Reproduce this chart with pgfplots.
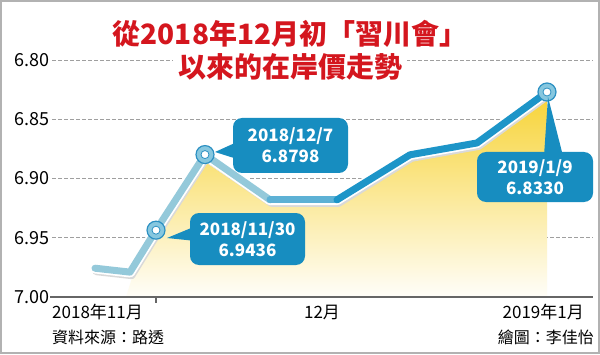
\documentclass[border=0pt]{standalone}
\usepackage{fontspec}
\setmainfont{Noto Sans CJK TC}
\usepackage{pgfplots}
\pgfplotsset{compat=1.18}
\definecolor{titlered}{HTML}{D4161E}
\definecolor{lineL}{HTML}{94C9DA}
\definecolor{lineM}{HTML}{5DB1D5}
\definecolor{lineR}{HTML}{1D95C8}
\definecolor{boxblue}{HTML}{178DC0}
\definecolor{ringfill}{HTML}{86C7DF}
\definecolor{ringedge}{HTML}{2C90C2}
\definecolor{fillY}{HTML}{F7D43A}
\begin{document}
\begin{tikzpicture}[x=1pt,y=1pt]
\useasboundingbox (0,0) rectangle (600,354);
\fill[white] (0,0) rectangle (600,354);
\begin{axis}[at={(52pt,57pt)}, anchor=south west, scale only axis,
  width=541pt, height=237pt,
  xmin=52, xmax=593, ymin=6.80, ymax=7.00, y dir=reverse, clip=false,
  axis line style={draw=none}, xtick=\empty,
  ytick={6.80,6.85,6.90,6.95,7.00},
  yticklabels={6.80,6.85,6.90,6.95,7.00},
  ymajorgrids, major tick length=0pt,
  major grid style={gray!75, dash pattern=on 3.5pt off 2.5pt, line width=0.9pt},
  yticklabel style={font=\fontsize{18}{20}\selectfont, text=black, inner sep=2pt},
]
% area
\addplot[draw=none, top color=fillY, middle color=fillY!40, bottom color=white!97!fillY]
  coordinates {(126,7.0) (132,6.984) (156,6.950) (205,6.886) (270,6.923) (337,6.923) (410,6.885) (477,6.875) (547,6.832) (547,7.0)} -- cycle;
% shadow
\addplot[gray!30, line width=8pt, line join=round, line cap=round, transform canvas={xshift=1.5pt,yshift=-3pt}]
  coordinates {(95,6.9757) (130,6.979) (156,6.9436) (205,6.8798) (270,6.918) (337,6.918) (410,6.880) (477,6.870) (547,6.827)};
% white outline
\addplot[white, line width=10.5pt, line join=round, line cap=round]
  coordinates {(95,6.9757) (130,6.979) (156,6.9436) (205,6.8798) (270,6.918) (337,6.918) (410,6.880) (477,6.870) (547,6.827)};
% line
\addplot[lineL, line width=7pt, line join=round, line cap=round]
  coordinates {(95,6.9757) (130,6.979) (156,6.9436) (205,6.8798) (270,6.918)};
\addplot[lineM, line width=7pt, line join=round, line cap=round]
  coordinates {(270,6.918) (337,6.918)};
\addplot[lineR, line width=7pt, line join=round, line cap=round]
  coordinates {(337,6.918) (410,6.880) (477,6.870) (547,6.827)};
% markers
\addplot[only marks, mark=*, mark size=9pt, mark options={fill=ringfill, draw=ringedge, line width=1.2pt}]
  coordinates {(156,6.9436) (205,6.8798) (547,6.827)};
\addplot[only marks, mark=*, mark size=4pt, mark options={fill=white, draw=ringedge, line width=0.8pt}]
  coordinates {(156,6.9436) (205,6.8798) (547,6.827)};
\end{axis}
% axis line and tick
\draw[color=black!60, line width=1.2pt] (50,57) -- (593,57);
\draw[color=black!60, line width=1.2pt] (156,57) -- (156,51);
% callouts
\fill[boxblue] (167,116) -- (196,128) -- (196,113) -- cycle;
\fill[boxblue, rounded corners=9pt] (190,89) rectangle (305,141);
\node[text=white, font=\fontsize{17}{21}\selectfont\bfseries, align=center] at (247.5,115) {2018/11/30\\6.9436};
\fill[boxblue] (215,202) -- (237,212) -- (237,195) -- cycle;
\fill[boxblue, rounded corners=9pt] (233,181) rectangle (348,236);
\node[text=white, font=\fontsize{17}{21}\selectfont\bfseries, align=center] at (290.5,208.5) {2018/12/7\\6.8798};
\fill[boxblue] (548,257) -- (544,198) -- (563,198) -- cycle;
\fill[boxblue, rounded corners=9pt] (477,152) rectangle (593,202);
\node[text=white, font=\fontsize{17}{21}\selectfont\bfseries, align=center] at (535,177) {2019/1/9\\6.8330};
% title
\node[text=titlered, font=\fontsize{28}{30}\selectfont\bfseries] at (290,320) {從2018年12月初「習川會」};
\node[fill=white, inner xsep=5pt, inner ysep=1pt, text=titlered, font=\fontsize{28}{30}\selectfont\bfseries] at (290,287) {以來的在岸價走勢};
% x labels
\node[anchor=west, font=\fontsize{17}{20}\selectfont, inner sep=0pt] at (52,42) {2018年11月};
\node[font=\fontsize{17}{20}\selectfont, inner sep=0pt] at (322,42) {12月};
\node[anchor=east, font=\fontsize{17}{20}\selectfont, inner sep=0pt] at (584,42) {2019年1月};
% footers
\node[anchor=west, font=\fontsize{16}{18}\selectfont, inner sep=0pt] at (52,17) {資料來源：路透};
\node[anchor=east, font=\fontsize{16}{18}\selectfont, inner sep=0pt] at (594,17) {繪圖：李佳怡};
% frame
\draw[gray!60, line width=2pt] (1,1) rectangle (599,353);
\end{tikzpicture}
\end{document}
